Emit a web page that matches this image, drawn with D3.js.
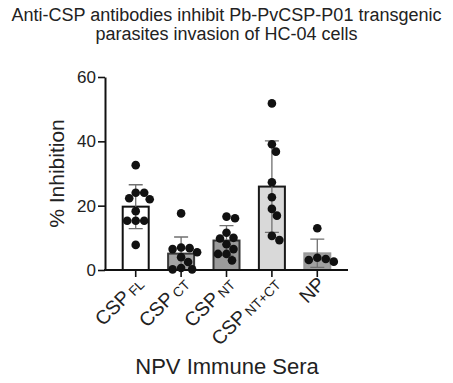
<!DOCTYPE html>
<html>
<head>
<meta charset="utf-8">
<script src="https://cdn.jsdelivr.net/npm/d3@7"></script>
<style>
  body { margin: 0; background: #fff; }
  svg { display: block; font-family: "Liberation Sans", Arial, sans-serif; }
</style>
</head>
<body>
<div id="main"></div>
<script>
// groups and their individual sera values (% inhibition)
const groups = ["FL", "CT", "NT", "NT+CT", "NP"];
const labelMain = ["CSP", "CSP", "CSP", "CSP", "NP"];
const labelSub = ["FL", "CT", "NT", "NT+CT", ""];

const valsFL = [32.6, 24.0, 24.0, 22.3, 22.0, 18.3, 15.3, 15.3, 15.3, 7.8];
const valsCT = [17.6, 7.0, 6.8, 6.5, 5.5, 4.0, 2.5, 0.6, 0.2, 0.2];
const valsNT = [16.6, 16.1, 11.6, 10.0, 9.8, 8.0, 6.5, 5.0, 5.0, 3.0];
const valsNTCT = [51.8, 39.1, 36.8, 27.3, 22.6, 19.0, 16.9, 10.6, 9.3];
const valsNP = [13.0, 3.8, 3.4, 3.1, 2.6];

const yTicks = [0, 20, 40, 60];

const series = [valsFL, valsCT, valsNT, valsNTCT, valsNP];
const fills = ["#ffffff", "#a3a3a3", "#9b9b9b", "#d9d9d9", "#a0a0a0"];
const strokes = ["#111", "#3a3a3a", "#333", "#1a1a1a", "#9a9a9a"];

const width = 453, height = 383;
const margin = ({ top: 77, right: 105, bottom: 113, left: 105 });

const x = d3.scaleBand()
    .domain(groups)
    .range([margin.left, width - margin.right])
    .paddingInner(0.383)
    .paddingOuter(0.368);

const y = d3.scaleLinear()
    .domain([0, 60])
    .range([height - margin.bottom, margin.top]);

const svg = d3.create("svg")
    .attr("width", width)
    .attr("height", height)
    .attr("viewBox", [0, 0, width, height]);

// title
svg.append("text")
    .attr("x", width / 2)
    .attr("y", 21)
    .attr("text-anchor", "middle")
    .attr("font-size", 18)
    .attr("fill", "#222")
    .selectAll("tspan")
    .data(["Anti-CSP antibodies inhibit Pb-PvCSP-P01 transgenic", "parasites invasion of HC-04 cells"])
    .join("tspan")
    .attr("x", width / 2)
    .attr("dy", (d, i) => i ? 19 : 0)
    .text(d => d);

const stats = series.map(v => ({
    mean: d3.mean(v),
    sd: d3.deviation(v)
}));

// bars
svg.append("g")
    .selectAll("rect")
    .data(groups)
    .join("rect")
    .attr("x", d => x(d) + 1)
    .attr("width", x.bandwidth() - 2)
    .attr("y", (d, i) => y(stats[i].mean))
    .attr("height", (d, i) => y(0) - y(stats[i].mean))
    .attr("fill", (d, i) => fills[i])
    .attr("stroke", (d, i) => strokes[i])
    .attr("stroke-width", 2);

// error bars (mean +/- SD)
const cap = 7;
const eb = svg.append("g")
    .attr("stroke", "#707070")
    .attr("stroke-width", 1.3)
    .attr("fill", "none");
groups.forEach((g, i) => {
    const cx = x(g) + x.bandwidth() / 2;
    const hi = stats[i].mean + stats[i].sd;
    const lo = Math.max(0, stats[i].mean - stats[i].sd);
    eb.append("path")
        .attr("d", `M${cx},${y(hi)}V${y(lo)}M${cx - cap},${y(hi)}H${cx + cap}M${cx - cap},${y(lo)}H${cx + cap}`);
});

// individual points, simple beeswarm so dots don't overlap
const r = 4.3;
const dots = [];
groups.forEach((g, i) => {
    const cx = x(g) + x.bandwidth() / 2;
    const placed = [];
    series[i].slice().sort((a, b) => b - a).forEach(v => {
        const py = y(v);
        let off = 0;
        for (let k = 0; k < 200; k++) {
            const cand = (k % 2 ? 1 : -1) * Math.ceil(k / 2) * 0.5;
            const ok = placed.every(p => Math.hypot(p.x - (cx + cand), p.y - py) >= 2 * r - 0.2);
            if (ok) { off = cand; break; }
        }
        const pt = { x: cx + off, y: py };
        placed.push(pt);
        dots.push(pt);
    });
});

svg.append("g")
    .selectAll("circle")
    .data(dots)
    .join("circle")
    .attr("cx", d => d.x)
    .attr("cy", d => d.y)
    .attr("r", r)
    .attr("fill", "#111");

// y axis
const yAxis = g => g
    .attr("transform", `translate(${margin.left},0)`)
    .call(d3.axisLeft(y).tickValues(yTicks).tickSize(7).tickPadding(2).tickSizeOuter(0))
    .call(g => g.select(".domain").attr("stroke", "#111").attr("stroke-width", 2))
    .call(g => g.selectAll(".tick line").attr("stroke", "#111").attr("stroke-width", 1.6))
    .call(g => g.selectAll(".tick text")
        .attr("font-size", 17)
        .attr("font-family", "Liberation Sans, Arial, sans-serif")
        .attr("fill", "#222"));

svg.append("g").call(yAxis);

// x axis
const xAxis = g => g
    .attr("transform", `translate(0,${y(0)})`)
    .call(d3.axisBottom(x).tickSize(7).tickSizeOuter(0).tickFormat(""))
    .call(g => g.select(".domain").attr("stroke", "#111").attr("stroke-width", 2)
        .attr("d", `M${margin.left - 1},0H${width - margin.right}`))
    .call(g => g.selectAll(".tick line").attr("stroke", "#111").attr("stroke-width", 1.6));

svg.append("g").call(xAxis);

// rotated category labels with subscripts
const lab = svg.append("g")
    .selectAll("text")
    .data(groups)
    .join("text")
    .attr("transform", d => `translate(${x(d) + x.bandwidth() / 2 + 9},${y(0) + 15}) rotate(-45)`)
    .attr("text-anchor", "end")
    .attr("fill", "#222")
    .attr("font-size", 19.5);
lab.append("tspan")
    .text((d, i) => labelMain[i]);
lab.append("tspan")
    .attr("font-size", 13.5)
    .attr("dx", (d, i) => labelSub[i] ? 3 : 0)
    .attr("dy", 1)
    .text((d, i) => labelSub[i]);

// axis titles
svg.append("text")
    .attr("transform", `translate(64,${(y(0) + y(60)) / 2}) rotate(-90)`)
    .attr("text-anchor", "middle")
    .attr("font-size", 21)
    .attr("fill", "#222")
    .text("% Inhibition");

svg.append("text")
    .attr("x", 227)
    .attr("y", 374)
    .attr("text-anchor", "middle")
    .attr("font-size", 22)
    .attr("fill", "#222")
    .text("NPV Immune Sera");

d3.select("#main").append(() => svg.node());
</script>
</body>
</html>
